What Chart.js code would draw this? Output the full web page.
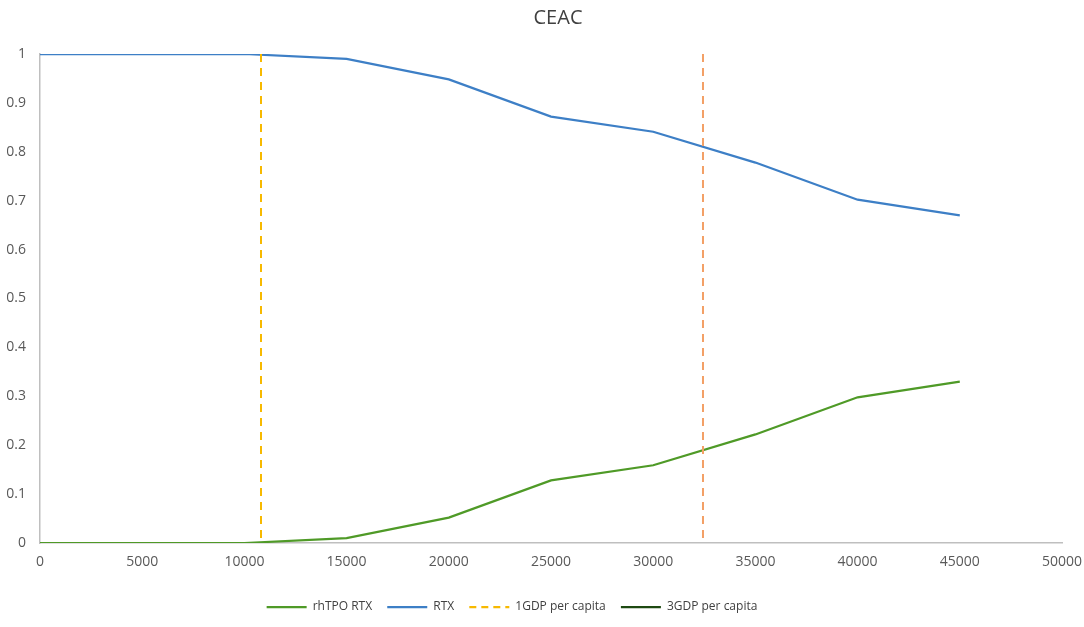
<!DOCTYPE html>
<html>
<head>
<meta charset="utf-8">
<script src="https://cdn.jsdelivr.net/npm/chart.js@4.4.1/dist/chart.umd.min.js"></script>
<style>
html,body{margin:0;padding:0;background:#fff;}
#wrap{width:1084px;height:627px;position:relative;}
</style>
</head>
<body>
<div id="wrap"><canvas id="c"></canvas></div>
<script>
// Data
const wtp = [0, 5000, 10000, 15000, 20000, 25000, 30000, 35000, 40000, 45000];
const rhtpoRtx = [0, 0, 0, 0.01, 0.052, 0.128, 0.159, 0.222, 0.298, 0.330];
const rtx = [1, 1, 1, 0.990, 0.948, 0.872, 0.841, 0.778, 0.702, 0.670];
const gdp1 = 10812;
const gdp3 = 32436;
const vlineY = [1, 0];
const seriesNames = ['rhTPO RTX', 'RTX', '1GDP per capita', '3GDP per capita'];
const xTicks = [0, 5000, 10000, 15000, 20000, 25000, 30000, 35000, 40000, 45000, 50000];
const yTicks = [0, 0.1, 0.2, 0.3, 0.4, 0.5, 0.6, 0.7, 0.8, 0.9, 1];

const GREEN = '#4f9a27', BLUE = '#3d7fc6', GOLD = '#f7b900', ORANGE = '#f3a066', DKGREEN = '#1e4a12';
const toXY = (xs, ys) => xs.map((x, i) => ({x: x, y: ys[i]}));

Chart.defaults.font.family = '"Open Sans", "Noto Sans", sans-serif';
Chart.defaults.color = '#595959';

const legendStyle = [
  {strokeStyle: GREEN, lineDash: []},
  {strokeStyle: BLUE, lineDash: []},
  {strokeStyle: GOLD, lineDash: [7, 5]},
  {strokeStyle: DKGREEN, lineDash: []}
];

const boxShift = {
  id: 'boxShift',
  afterLayout(chart) {
    if (chart.titleBlock) { chart.titleBlock.left += 54; }
    if (chart.legend) { chart.legend.left -= 19; chart.legend.right -= 19; }
  }
};

new Chart(document.getElementById('c'), {
  type: 'line',
  plugins: [boxShift],
  data: {
    datasets: [
      {label: seriesNames[0], data: toXY(wtp, rhtpoRtx), borderColor: GREEN, borderWidth: 2.25, pointRadius: 0, order: 2},
      {label: seriesNames[1], data: toXY(wtp, rtx), borderColor: BLUE, borderWidth: 2.25, pointRadius: 0, order: 2},
      {label: seriesNames[2], data: toXY([gdp1, gdp1], vlineY), borderColor: GOLD, borderWidth: 2, borderDash: [8, 6], pointRadius: 0, order: 1},
      {label: seriesNames[3], data: toXY([gdp3, gdp3], vlineY), borderColor: ORANGE, borderWidth: 2, borderDash: [8, 6], pointRadius: 0, order: 1}
    ]
  },
  options: {
    responsive: true,
    maintainAspectRatio: false,
    animation: false,
    devicePixelRatio: 1,
    layout: {padding: {left: 0, right: 22, top: 0, bottom: 4}},
    plugins: {
      tooltip: {enabled: false},
      title: {
        display: true, text: 'CEAC', color: '#404040',
        font: {size: 20, weight: 'normal'},
        padding: {top: 6, bottom: 24}
      },
      legend: {
        position: 'bottom',
        labels: {
          usePointStyle: true,
          pointStyle: 'line',
          pointStyleWidth: 40,
          boxWidth: 40,
          padding: 12,
          color: '#404040',
          font: {size: 12},
          generateLabels: (chart) => seriesNames.map((n, i) => ({
            text: i < seriesNames.length - 1 ? n + ' ' : n,
            strokeStyle: legendStyle[i].strokeStyle,
            fillStyle: legendStyle[i].strokeStyle,
            lineWidth: 2.25,
            lineDash: legendStyle[i].lineDash,
            pointStyle: 'line',
            hidden: false,
            datasetIndex: i,
            fontColor: '#404040'
          }))
        }
      }
    },
    scales: {
      x: {
        type: 'linear', min: 0, max: 50000,
        afterBuildTicks: (s) => { s.ticks = xTicks.map(v => ({value: v})); },
        ticks: {padding: 11, font: {size: 14}, color: '#595959', maxRotation: 0, callback: (v) => String(v)},
        grid: {display: false, drawTicks: false},
        border: {display: true, color: '#bfbfbf', width: 1.5},
        afterFit: (s) => { s.height = 46; s.paddingLeft = 0; s.paddingRight = 0; }
      },
      y: {
        type: 'linear', min: 0, max: 1,
        afterBuildTicks: (s) => { s.ticks = yTicks.map(v => ({value: v})); },
        ticks: {padding: 14, font: {size: 14}, color: '#595959', callback: (v) => String(Math.round(v * 10) / 10)},
        grid: {display: false, drawTicks: false},
        border: {display: true, color: '#bfbfbf', width: 1.5},
        afterFit: (s) => { s.width = 40; }
      }
    }
  }
});
</script>
</body>
</html>
